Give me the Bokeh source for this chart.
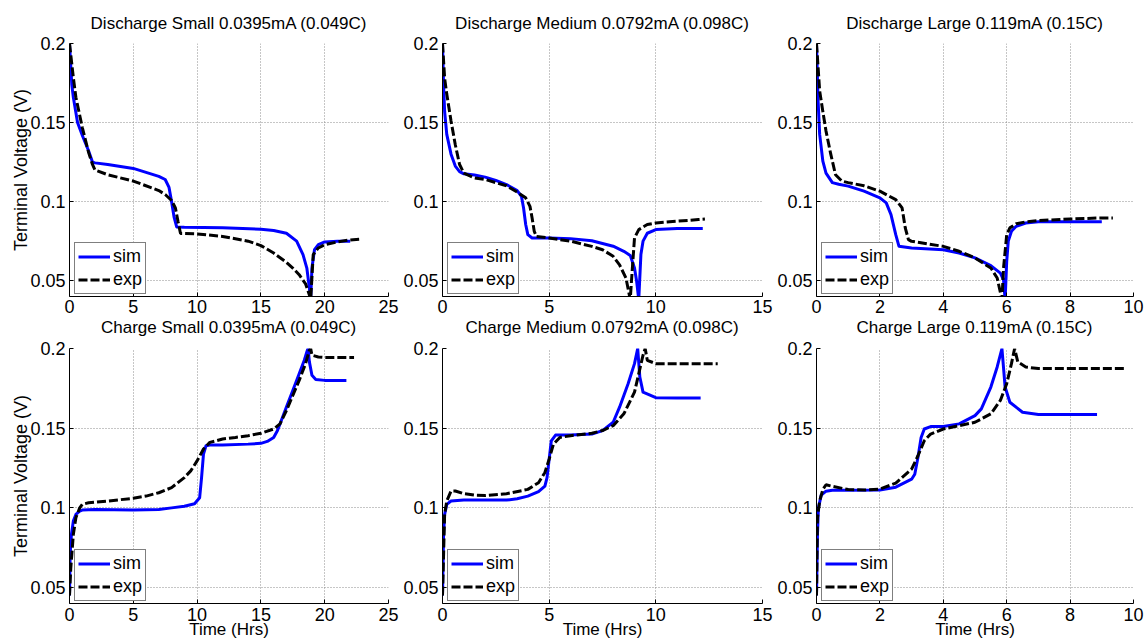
from bokeh.plotting import figure
from bokeh.layouts import column, row
from bokeh.models import (FixedTicker, NumeralTickFormatter, Legend, LegendItem,
                          Range1d, Title)
from bokeh.embed import file_html
from bokeh.resources import INLINE

FONT = "Liberation Sans"

# ---------------- data ----------------
titles = ["Discharge Small 0.0395mA (0.049C)",
          "Discharge Medium 0.0792mA (0.098C)",
          "Discharge Large 0.119mA (0.15C)",
          "Charge Small 0.0395mA (0.049C)",
          "Charge Medium 0.0792mA (0.098C)",
          "Charge Large 0.119mA (0.15C)"]
x_label_text = "Time (Hrs)"
y_label_text = "Terminal Voltage (V)"
x_max = [25, 15, 10, 25, 15, 10]
x_ticks = [[0, 5, 10, 15, 20, 25], [0, 5, 10, 15], [0, 2, 4, 6, 8, 10],
           [0, 5, 10, 15, 20, 25], [0, 5, 10, 15], [0, 2, 4, 6, 8, 10]]
y_ticks = [0.05, 0.1, 0.15, 0.2]
series_labels = ["sim", "exp"]

# Discharge Small
t_ds_sim = [0, 0.18, 0.3, 0.63, 1.0, 1.5, 1.8, 2.0, 3.0, 5.0, 7.0, 7.5, 7.8, 8.0, 8.2, 8.4, 9.0,
            12.0, 15.0, 16.0, 17.0, 17.8, 18.3, 18.6, 18.8, 18.9, 19.0, 19.2, 19.5, 20.0, 21.0, 22.0]
v_ds_sim = [0.2, 0.174, 0.166, 0.15, 0.142, 0.132, 0.125, 0.1245, 0.1235, 0.121, 0.116, 0.114,
            0.109, 0.100, 0.090, 0.084, 0.0838, 0.0834, 0.0825, 0.0817, 0.080, 0.075, 0.0665,
            0.058, 0.0453, 0.038, 0.058, 0.0696, 0.0728, 0.0745, 0.075, 0.075]
t_ds_exp = [0, 0.3, 0.5, 1.0, 1.5, 1.8, 2.0, 3.0, 5.0, 7.0, 7.5, 8.0, 8.3, 8.5, 8.7, 9.0, 10.0,
            12.0, 14.0, 15.0, 16.0, 17.0, 17.5, 18.0, 18.5, 18.8, 18.9, 19.1, 19.5, 20.0, 21.0,
            22.0, 22.7]
v_ds_exp = [0.2, 0.1785, 0.166, 0.147, 0.131, 0.1235, 0.12, 0.117, 0.113, 0.107, 0.1045, 0.1007,
            0.096, 0.0876, 0.0798, 0.0798, 0.0796, 0.078, 0.075, 0.0722, 0.0675, 0.0616, 0.058,
            0.0538, 0.048, 0.041, 0.038, 0.0665, 0.0707, 0.0728, 0.0745, 0.0758, 0.0762]

# Discharge Medium
t_dm_sim = [0, 0.05, 0.1, 0.2, 0.4, 0.6, 0.8, 1.0, 1.5, 2.0, 2.5, 3.0, 3.5, 3.7, 3.8, 3.9, 4.0,
            4.2, 5.0, 6.0, 7.0, 8.0, 8.5, 8.8, 9.0, 9.1, 9.2, 9.3, 9.4, 9.6, 10.0, 11.0, 12.2]
v_dm_sim = [0.2, 0.174, 0.157, 0.1425, 0.13, 0.1225, 0.119, 0.1176, 0.1168, 0.1155, 0.1134,
            0.1108, 0.107, 0.1034, 0.096, 0.0855, 0.0791, 0.077, 0.077, 0.0766, 0.0753, 0.0718,
            0.0686, 0.066, 0.058, 0.0496, 0.038, 0.0665, 0.075, 0.080, 0.0823, 0.083, 0.083]
t_dm_exp = [0, 0.1, 0.2, 0.4, 0.6, 0.8, 1.0, 1.5, 2.0, 2.5, 3.0, 3.5, 3.9, 4.1, 4.2, 4.3, 4.4,
            5.0, 6.0, 7.0, 7.5, 8.0, 8.3, 8.6, 8.8, 8.9, 9.0, 9.2, 9.6, 10.0, 11.0, 12.0, 12.3]
v_dm_exp = [0.2, 0.178, 0.168, 0.151, 0.136, 0.1235, 0.118, 0.115, 0.114, 0.112, 0.11, 0.106,
            0.1024, 0.097, 0.0897, 0.0813, 0.078, 0.077, 0.075, 0.0717, 0.0696, 0.0654, 0.060,
            0.0517, 0.038, 0.058, 0.077, 0.0823, 0.0855, 0.0865, 0.0876, 0.0887, 0.089]

# Discharge Large
t_dl_sim = [0, 0.05, 0.1, 0.2, 0.3, 0.5, 0.7, 1.0, 1.5, 2.0, 2.2, 2.35, 2.5, 2.6, 3.0, 4.0, 4.5,
            5.0, 5.5, 5.8, 5.9, 5.95, 6.0, 6.05, 6.15, 6.3, 6.6, 7.0, 8.0, 9.0]
v_dl_sim = [0.2, 0.1637, 0.1425, 0.1256, 0.118, 0.112, 0.111, 0.1098, 0.1066, 0.1024, 0.0992,
            0.0918, 0.0791, 0.0718, 0.0707, 0.0696, 0.0675, 0.0644, 0.0595, 0.0548, 0.0506,
            0.038, 0.0622, 0.075, 0.0813, 0.0844, 0.0865, 0.0872, 0.0872, 0.0872]
t_dl_exp = [0, 0.05, 0.1, 0.2, 0.3, 0.45, 0.6, 0.8, 1.0, 1.5, 2.0, 2.5, 2.7, 2.8, 2.9, 3.0, 4.0,
            4.5, 5.0, 5.5, 5.7, 5.85, 5.9, 6.0, 6.1, 6.3, 6.6, 7.0, 8.0, 9.0, 9.35]
v_dl_exp = [0.2, 0.185, 0.17, 0.157, 0.1446, 0.13, 0.117, 0.113, 0.112, 0.11, 0.1066, 0.1013,
            0.096, 0.0834, 0.076, 0.0749, 0.0717, 0.0686, 0.0644, 0.058, 0.0517, 0.038, 0.058,
            0.079, 0.0834, 0.086, 0.0872, 0.088, 0.089, 0.0897, 0.0897]

# Charge Small
t_cs_sim = [0, 0.05, 0.15, 0.3, 0.5, 0.8, 1.0, 2.0, 5.0, 7.0, 8.0, 9.0, 9.8, 10.2, 10.35, 10.5,
            10.7, 11.0, 12.0, 14.0, 15.0, 15.5, 16.0, 16.3, 16.6, 17.0, 17.5, 18.0, 18.4, 18.6,
            18.7, 18.8, 19.0, 19.3, 20.0, 21.7]
v_cs_sim = [0.045, 0.0706, 0.0832, 0.0917, 0.0959, 0.098, 0.0986, 0.099, 0.0986, 0.099, 0.1,
            0.101, 0.1026, 0.1064, 0.119, 0.1337, 0.139, 0.1394, 0.1394, 0.14, 0.1405, 0.1417,
            0.1442, 0.1485, 0.1548, 0.1632, 0.1737, 0.1842, 0.1926, 0.1979, 0.2, 0.1916, 0.1832,
            0.1806, 0.18, 0.18]
t_cs_exp = [0, 0.1, 0.3, 0.5, 0.8, 1.0, 1.5, 3.0, 5.0, 6.0, 7.0, 8.0, 9.0, 9.5, 10.0, 10.5, 11.0,
            12.0, 13.0, 14.0, 15.0, 16.0, 16.5, 17.0, 17.5, 18.0, 18.5, 18.8, 18.9, 19.0, 19.5,
            20.0, 22.3]
v_cs_exp = [0.045, 0.0622, 0.0832, 0.0938, 0.1, 0.1022, 0.1032, 0.1043, 0.106, 0.1074, 0.1095,
            0.1127, 0.119, 0.1232, 0.1295, 0.1369, 0.1411, 0.1432, 0.1442, 0.1453, 0.1468,
            0.1495, 0.1527, 0.1611, 0.1705, 0.18, 0.1905, 0.199, 0.2, 0.1958, 0.1947, 0.1943,
            0.1943]

# Charge Medium
t_cm_sim = [0, 0.05, 0.1, 0.2, 0.4, 1.0, 2.0, 3.0, 3.5, 4.0, 4.5, 4.8, 4.9, 5.0, 5.1, 5.3, 6.0,
            7.0, 7.5, 8.0, 8.3, 8.7, 9.0, 9.15, 9.25, 9.4, 10.0, 11.0, 12.1]
v_cm_sim = [0.045, 0.083, 0.0959, 0.1022, 0.1043, 0.1049, 0.1049, 0.1049, 0.1057, 0.1074,
            0.1102, 0.1137, 0.119, 0.1306, 0.1421, 0.1457, 0.1457, 0.1463, 0.1485, 0.1537,
            0.1632, 0.1779, 0.1905, 0.2, 0.1821, 0.1726, 0.1691, 0.1689, 0.1689]
t_cm_exp = [0, 0.1, 0.2, 0.4, 0.6, 1.0, 1.5, 2.0, 3.0, 4.0, 4.5, 4.8, 5.0, 5.2, 5.5, 6.0, 7.0,
            7.5, 8.0, 8.5, 9.0, 9.2, 9.4, 9.5, 9.6, 10.0, 11.0, 12.0, 12.9]
v_cm_exp = [0.045, 0.0959, 0.1043, 0.1106, 0.1106, 0.1089, 0.108, 0.1078, 0.1089, 0.1116,
            0.1158, 0.1222, 0.1306, 0.14, 0.1442, 0.1453, 0.1468, 0.1485, 0.1516, 0.159,
            0.1726, 0.1842, 0.1958, 0.2, 0.1926, 0.1905, 0.1905, 0.1905, 0.1905]

# Charge Large
t_cl_sim = [0, 0.03, 0.06, 0.15, 0.3, 0.5, 1.0, 2.0, 2.5, 3.0, 3.1, 3.2, 3.3, 3.4, 3.6, 4.0,
            4.5, 5.0, 5.2, 5.5, 5.7, 5.85, 5.95, 6.1, 6.5, 7.0, 8.0, 8.85]
v_cl_sim = [0.045, 0.083, 0.1, 0.108, 0.1105, 0.111, 0.111, 0.1112, 0.113, 0.118, 0.1211,
            0.1316, 0.1442, 0.1495, 0.151, 0.151, 0.1527, 0.1579, 0.1621, 0.1758, 0.1884, 0.2,
            0.1758, 0.1663, 0.16, 0.1586, 0.1586, 0.1586]
t_cl_exp = [0, 0.03, 0.1, 0.2, 0.3, 0.5, 1.0, 1.5, 2.0, 2.5, 3.0, 3.2, 3.4, 3.6, 4.0, 4.5, 5.0,
            5.5, 5.8, 6.0, 6.15, 6.25, 6.35, 6.6, 7.0, 8.0, 9.0, 9.7]
v_cl_exp = [0.045, 0.0938, 0.1043, 0.1116, 0.1145, 0.1135, 0.1115, 0.1112, 0.1118, 0.1155,
            0.1243, 0.1327, 0.1421, 0.1463, 0.1495, 0.1516, 0.1537, 0.159, 0.1674, 0.1779,
            0.1905, 0.2, 0.1916, 0.1884, 0.1874, 0.1874, 0.1874, 0.1874]

panel_data = [(t_ds_sim, v_ds_sim, t_ds_exp, v_ds_exp),
              (t_dm_sim, v_dm_sim, t_dm_exp, v_dm_exp),
              (t_dl_sim, v_dl_sim, t_dl_exp, v_dl_exp),
              (t_cs_sim, v_cs_sim, t_cs_exp, v_cs_exp),
              (t_cm_sim, v_cm_sim, t_cm_exp, v_cm_exp),
              (t_cl_sim, v_cl_sim, t_cl_exp, v_cl_exp)]

# ---------------- layout ----------------
col_left = [69, 42, 40]
col_frame = [319, 320, 319]
col_right = [12, 12, 12]
# top row: frame 43..296, its lower border also holds the caption of the lower panel
row_top = [43, 8]
row_frame = [253, 255]
row_bottom = [44, 40]


def style_title(t, standoff):
    t.align = "center"
    t.text_font = FONT
    t.text_font_size = "17px"
    t.text_font_style = "normal"
    t.text_color = "black"
    t.standoff = standoff


def make_panel(i):
    r, c = divmod(i, 3)
    left, fw, right = col_left[c], col_frame[c], col_right[c]
    top, fh, bottom = row_top[r], row_frame[r], row_bottom[r]
    p = figure(width=left + fw + right, height=top + fh + bottom,
               x_range=Range1d(0, x_max[i]), y_range=Range1d(0.04, 0.2),
               output_backend="svg", toolbar_location=None,
               min_border_left=left, min_border_right=right,
               min_border_top=top, min_border_bottom=bottom)
    p.outline_line_color = None
    p.background_fill_color = "white"
    p.border_fill_color = "white"

    for ax in (p.xaxis[0], p.yaxis[0]):
        ax.major_label_text_font = FONT
        ax.major_label_text_font_size = "18px"
        ax.major_label_text_color = "black"
        ax.axis_line_color = "black"
        ax.axis_line_width = 1
        ax.major_tick_in = 4
        ax.major_tick_out = 0
        ax.major_tick_line_color = "black"
        ax.minor_tick_line_color = None
        ax.axis_label_text_font = FONT
        ax.axis_label_text_font_style = "normal"
        ax.axis_label_text_color = "black"

    p.xaxis.ticker = FixedTicker(ticks=x_ticks[i])
    p.yaxis.ticker = FixedTicker(ticks=y_ticks)
    p.yaxis.formatter = NumeralTickFormatter(format="0.[00]")
    p.yaxis.major_label_standoff = 4

    if c == 0:
        p.yaxis.axis_label = y_label_text
        p.yaxis.axis_label_text_font_size = "18px"
        p.yaxis.axis_label_standoff = -4
    if r == 0:
        p.xaxis.major_label_standoff = 3
        top_title = Title(text=titles[i])
        style_title(top_title, 22)
        p.add_layout(top_title, "above")
        # caption of the panel underneath (sits between the two rows)
        sub_title = Title(text=titles[i + 3])
        style_title(sub_title, 0)
        p.add_layout(sub_title, "below")
    else:
        p.xaxis.major_label_standoff = 4
        p.xaxis.axis_label = x_label_text
        p.xaxis.axis_label_text_font_size = "17px"
        p.xaxis.axis_label_standoff = -4

    for g in (p.xgrid[0], p.ygrid[0]):
        g.grid_line_color = "#8c8c8c"
        g.grid_line_dash = "1 2"
        g.grid_line_width = 1

    ts, vs, te, ve = panel_data[i]
    r_sim = p.line(ts, vs, line_color="#0000ff", line_width=3, line_join="round")
    r_exp = p.line(te, ve, line_color="black", line_width=3, line_dash="9 3")

    legend = Legend(items=[LegendItem(label=series_labels[0], renderers=[r_sim]),
                           LegendItem(label=series_labels[1], renderers=[r_exp])],
                    location=(5, 2))
    legend.border_line_color = "black"
    legend.border_line_width = 1
    legend.background_fill_color = "white"
    legend.background_fill_alpha = 1
    legend.padding = 3
    legend.spacing = 2
    legend.margin = 0
    legend.glyph_width = 32
    legend.glyph_height = 21
    legend.label_height = 21
    legend.label_standoff = 3
    legend.label_text_font = FONT
    legend.label_text_font_size = "18px"
    legend.label_text_color = "black"
    p.add_layout(legend)
    return p


figs = [make_panel(i) for i in range(6)]
layout = column(row(*figs[:3], spacing=0), row(*figs[3:], spacing=0), spacing=0)

open("out.html", "w").write(file_html(layout, INLINE))
